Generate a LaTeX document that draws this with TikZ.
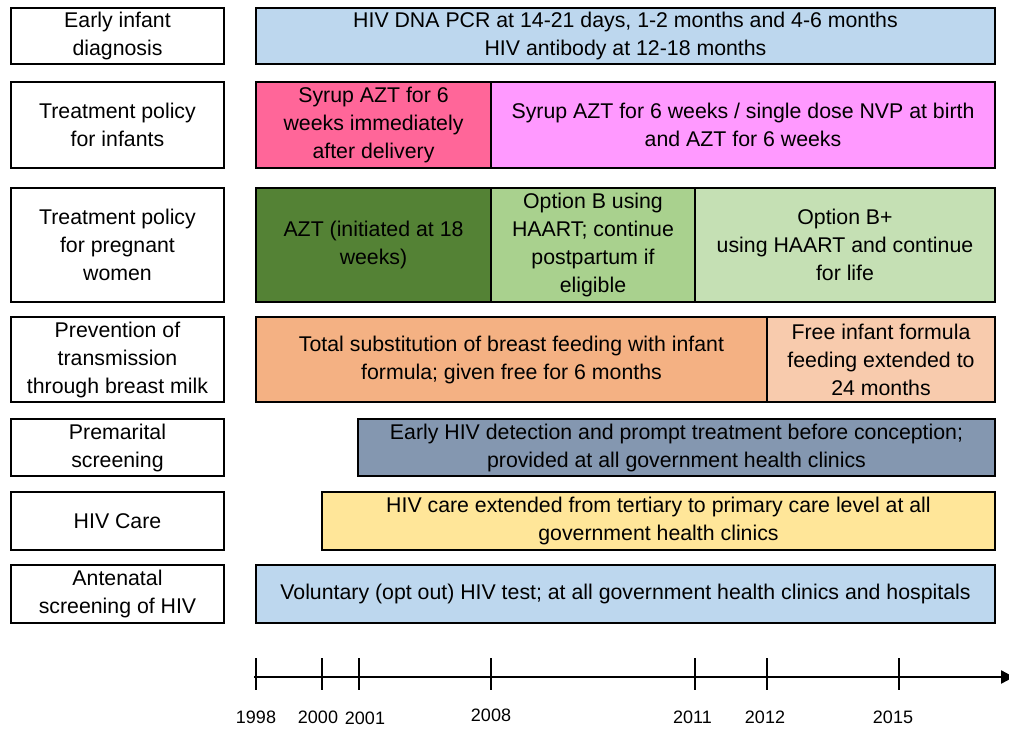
\documentclass[tikz,border=0pt]{standalone}
\usepackage{fontspec}
\setmainfont{Liberation Sans}
\usepackage{tikz}
\usetikzlibrary{positioning}
\usetikzlibrary{arrows.meta}
\definecolor{eidblue}{HTML}{BDD7EE}
\definecolor{syruppink}{HTML}{FF6699}
\definecolor{nvppink}{HTML}{FF99FF}
\definecolor{aztgreen}{HTML}{548235}
\definecolor{optbgreen}{HTML}{A9D18E}
\definecolor{optbplusgreen}{HTML}{C5E0B4}
\definecolor{feedorange}{HTML}{F4B183}
\definecolor{freeorange}{HTML}{F8CBAD}
\definecolor{premslate}{HTML}{8497B0}
\definecolor{careyellow}{HTML}{FFE699}
\pgfdeclarelayer{nodelayer}
\pgfdeclarelayer{edgelayer}
\pgfsetlayers{edgelayer,nodelayer,main}
\tikzstyle{none}=[inner sep=0pt]
\tikzset{box/.style={draw=black, line width=2.4pt, inner sep=0pt, align=center,
font=\fontsize{21.3}{28}\selectfont}}
\tikzset{year/.style={inner sep=0pt, font=\fontsize{18}{20}\selectfont}}
\tikzset{tick/.style={line width=2pt}}
\begin{document}
\begin{tikzpicture}[x=1pt, y=-1pt]
        \useasboundingbox (0,0) rectangle (1009,728);
        \begin{pgfonlayer}{nodelayer}
            % row labels
            \node [style=box, minimum width=213pt, minimum height=56pt] (0) at (117.5, 36) {Early infant\\diagnosis};
            \node [style=box, minimum width=213pt, minimum height=86pt] (1) at (117.5, 125) {Treatment policy\\for infants};
            \node [style=box, minimum width=213pt, minimum height=114pt] (2) at (117.5, 245) {Treatment policy\\for pregnant\\women};
            \node [style=box, minimum width=213pt, minimum height=85pt] (3) at (117.5, 359.5) {Prevention of\\transmission\\through breast milk};
            \node [style=box, minimum width=213pt, minimum height=57pt] (4) at (117.5, 447.5) {Premarital\\screening};
            \node [style=box, minimum width=213pt, minimum height=58pt] (5) at (117.5, 521) {HIV Care};
            \node [style=box, minimum width=213pt, minimum height=58pt] (6) at (117.5, 594) {Antenatal\\screening of HIV};
            % bars
            \node [style=box, fill=eidblue, minimum width=739pt, minimum height=56pt] (7) at (625.5, 36) {HIV DNA PCR at 14-21 days, 1-2 months and 4-6 months\\HIV antibody at 12-18 months};
            \node [style=box, fill=syruppink, minimum width=235pt, minimum height=86pt] (8) at (373.5, 125) {Syrup AZT for 6\\weeks immediately\\after delivery};
            \node [style=box, fill=nvppink, minimum width=504pt, minimum height=86pt] (9) at (743, 125) {Syrup AZT for 6 weeks / single dose NVP at birth\\and AZT for 6 weeks};
            \node [style=box, fill=aztgreen, minimum width=235pt, minimum height=114pt] (10) at (373.5, 245) {AZT (initiated at 18\\weeks)};
            \node [style=box, fill=optbgreen, minimum width=204pt, minimum height=114pt] (11) at (593, 245) {Option B using\\HAART; continue\\postpartum if\\eligible};
            \node [style=box, fill=optbplusgreen, minimum width=300pt, minimum height=114pt] (12) at (845, 245) {Option B+\\using HAART and continue\\for life};
            \node [style=box, fill=feedorange, minimum width=511pt, minimum height=85pt] (13) at (511.5, 359.5) {Total substitution of breast feeding with infant\\formula; given free for 6 months};
            \node [style=box, fill=freeorange, minimum width=228pt, minimum height=85pt] (14) at (881, 359.5) {Free infant formula\\feeding extended to\\24 months};
            \node [style=box, fill=premslate, minimum width=637pt, minimum height=57pt] (15) at (676.5, 447.5) {Early HIV detection and prompt treatment before conception;\\provided at all government health clinics};
            \node [style=box, fill=careyellow, minimum width=673pt, minimum height=58pt] (16) at (658.5, 521) {HIV care extended from tertiary to primary care level at all\\government health clinics};
            \node [style=box, fill=eidblue, minimum width=739pt, minimum height=58pt] (17) at (625.5, 594) {Voluntary (opt out) HIV test; at all government health clinics and hospitals};
            % timeline
            \node [style=none] (18) at (254, 677) {};
            \node [style=none] (19) at (1014, 677) {};
            \node [style=none] (20) at (256, 658) {};
            \node [style=none] (21) at (256, 690) {};
            \node [style=none] (22) at (322, 658) {};
            \node [style=none] (23) at (322, 690) {};
            \node [style=none] (24) at (359, 658) {};
            \node [style=none] (25) at (359, 690) {};
            \node [style=none] (26) at (491, 658) {};
            \node [style=none] (27) at (491, 690) {};
            \node [style=none] (28) at (695, 658) {};
            \node [style=none] (29) at (695, 690) {};
            \node [style=none] (30) at (767, 658) {};
            \node [style=none] (31) at (767, 690) {};
            \node [style=none] (32) at (899, 658) {};
            \node [style=none] (33) at (899, 690) {};
            \node [style=year] (34) at (256, 717) {1998};
            \node [style=year] (35) at (318, 717) {2000};
            \node [style=year] (36) at (365, 718) {2001};
            \node [style=year] (37) at (491, 715) {2008};
            \node [style=year] (38) at (692.5, 717) {2011};
            \node [style=year] (39) at (765, 717) {2012};
            \node [style=year] (40) at (893, 717) {2015};
        \end{pgfonlayer}
        \begin{pgfonlayer}{edgelayer}
            \draw [line width=2.3pt, -{Triangle[length=13pt, width=13pt]}] (18.center) to (19.center);
            \draw [style=tick] (20.center) to (21.center);
            \draw [style=tick] (22.center) to (23.center);
            \draw [style=tick] (24.center) to (25.center);
            \draw [style=tick] (26.center) to (27.center);
            \draw [style=tick] (28.center) to (29.center);
            \draw [style=tick] (30.center) to (31.center);
            \draw [style=tick] (32.center) to (33.center);
        \end{pgfonlayer}
    \end{tikzpicture}
\end{document}
